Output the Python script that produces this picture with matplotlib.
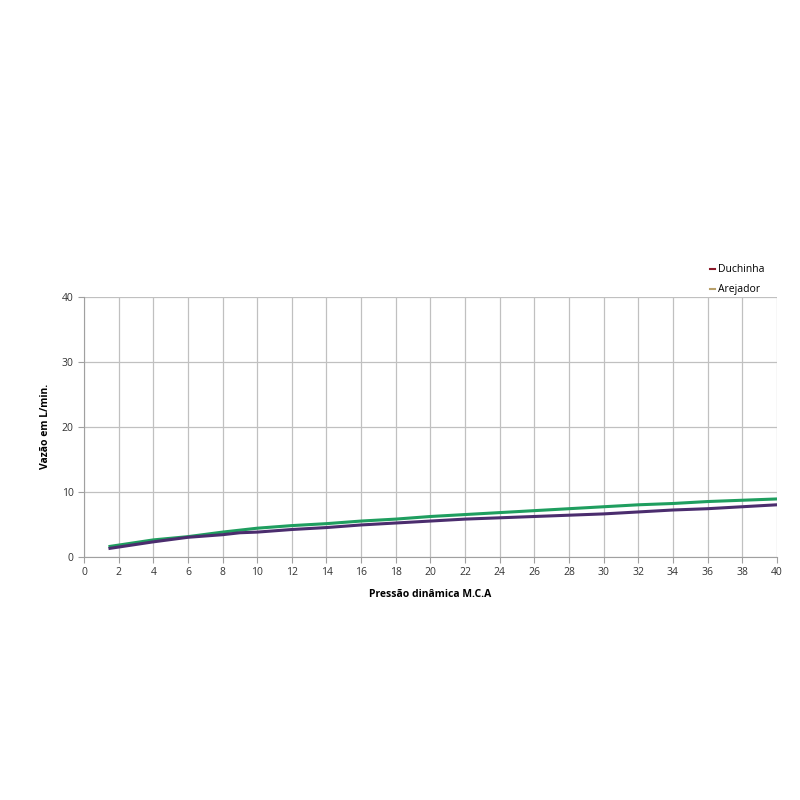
import matplotlib
matplotlib.use("Agg")
import matplotlib.pyplot as plt
from matplotlib.lines import Line2D

x_green = [1.5, 4, 6, 8, 10, 12, 14, 16, 18, 20, 22, 24, 26, 28, 30, 32, 34, 36, 38, 40]
y_green = [1.6, 2.6, 3.1, 3.8, 4.4, 4.8, 5.1, 5.5, 5.8, 6.2, 6.5, 6.8, 7.1, 7.4, 7.7, 8.0, 8.2, 8.5, 8.7, 8.9]
x_purple = [1.5, 4, 6, 8, 9, 10, 12, 14, 16, 18, 20, 22, 24, 26, 28, 30, 32, 34, 36, 38, 40]
y_purple = [1.3, 2.3, 3.0, 3.4, 3.7, 3.8, 4.2, 4.5, 4.9, 5.2, 5.5, 5.8, 6.0, 6.2, 6.4, 6.6, 6.9, 7.2, 7.4, 7.7, 8.0]
legend_labels = ["Duchinha", "Arejador"]
x_ticks = list(range(0, 41, 2))
y_ticks = [0, 10, 20, 30, 40]

plt.rcParams['font.family'] = ['Open Sans', 'DejaVu Sans']
fig = plt.figure(figsize=(8, 8), dpi=100)
ax = fig.add_axes([0.105, 0.304, 0.866, 0.325])

ax.plot(x_green, y_green, color='#1f9e5f', lw=2.2, zorder=3)
ax.plot(x_purple, y_purple, color='#4b2d6e', lw=2.2, zorder=3)

ax.set_xlim(0, 40)
ax.set_ylim(0, 40)
ax.set_xticks(x_ticks)
ax.set_yticks(y_ticks)
ax.grid(True, color='#c0c0c0', lw=0.9)
ax.set_axisbelow(True)
for s in ['top', 'right']:
    ax.spines[s].set_visible(False)
for s in ['left', 'bottom']:
    ax.spines[s].set_color('#a0a0a0')
ax.tick_params(axis='both', labelsize=7.5, colors='#333333', length=4, color='#a0a0a0')
ax.set_xlabel('Pressão dinâmica M.C.A', fontsize=7.5, fontweight='bold', labelpad=8)
ax.set_ylabel('Vazão em L/min.', fontsize=7.5, fontweight='bold', labelpad=8)

handles = [Line2D([0], [0], color='#8b1a2a', lw=1.5),
           Line2D([0], [0], color='#b8a06a', lw=1.5)]
leg = ax.legend(handles, legend_labels, loc='lower left', bbox_to_anchor=(0.89, 0.97),
                frameon=False, fontsize=7.5, handlelength=0.5, handletextpad=0.3,
                labelspacing=0.85)

fig.savefig('out.png', dpi=100)
